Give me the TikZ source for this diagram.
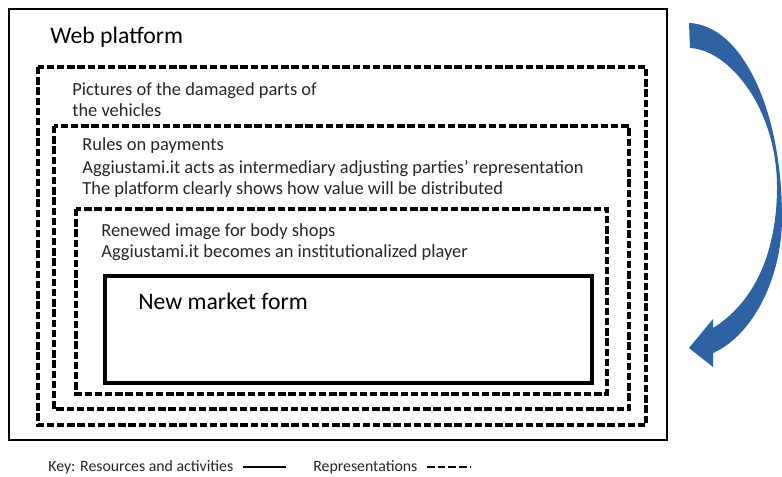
\documentclass[tikz,border=0pt]{standalone}
\usepackage{fontspec}
\setmainfont{Carlito}
\usepackage{tikz}
\usetikzlibrary{positioning}
\definecolor{arrowblue}{RGB}{47,98,163}

\begin{document}
\begin{tikzpicture}[x=0.02cm, y=-0.02cm,
    solidbox/.style={line width=1.2pt},
    innerbox/.style={line width=1.9pt},
    dashbox/.style={line width=2.1pt, dash pattern=on 4.2pt off 1.6pt},
    txt/.style={anchor=base west, inner sep=0pt, text=black!85, font=\fontsize{10.5}{12}\selectfont},
    bigtxt/.style={anchor=base west, inner sep=0pt, font=\fontsize{13.5}{16}\selectfont},
    keytxt/.style={anchor=base west, inner sep=0pt, text=black!85, font=\fontsize{9}{11}\selectfont}]
  \useasboundingbox (0,0) rectangle (782,477);
  % Web platform (outer frame)
  \draw[solidbox] (9,9) rectangle (667,440);
  \node[bigtxt] (web) at (50,43) {Web platform};
  % Pictures of the damaged parts
  \draw[dashbox] (38,67) rectangle (646,425);
  \node[txt] (pict1) at (72,95) {Pictures of the damaged parts of};
  \node[txt] (pict2) at (72,116) {the vehicles};
  % Rules on payments
  \draw[dashbox] (54,126) rectangle (629,409);
  \node[txt] (rules1) at (82,150) {Rules on payments};
  \node[txt] (rules2) at (82,173) {Aggiustami.it acts as intermediary adjusting parties’ representation};
  \node[txt] (rules3) at (82,194) {The platform clearly shows how value will be distributed};
  % Renewed image for body shops
  \draw[dashbox] (76,209) rectangle (607,394);
  \node[txt] (image1) at (101,236) {Renewed image for body shops};
  \node[txt] (image2) at (101,257) {Aggiustami.it becomes an institutionalized player};
  % New market form
  \draw[innerbox] (105,276) rectangle (592,383);
  \node[bigtxt] (market) at (138,309) {New market form};
  % curved blue arrow on the right
  \fill[arrowblue] (689,23) .. controls (742,25) and (782,110) .. (782,217)
    .. controls (782,282) and (750,337) .. (713,353) -- (713,367) -- (689,348)
    -- (713,319) -- (713,328) .. controls (750,305) and (776,260) .. (777,190)
    .. controls (778,110) and (730,50) .. (690,48) -- cycle;
  % Key
  \node[keytxt] (key1) at (48,471) {Key: Resources and activities};
  \coordinate (s1) at (243,467);
  \coordinate (s2) at (286,467);
  \draw[line width=1.4pt] (s1) -- (s2);
  \node[keytxt] (key2) at (313,471) {Representations};
  \coordinate (d1) at (427,467);
  \coordinate (d2) at (470,467);
  \draw[line width=1.4pt, dash pattern=on 4.3pt off 1.8pt] (d1) -- (d2);
\end{tikzpicture}
\end{document}
